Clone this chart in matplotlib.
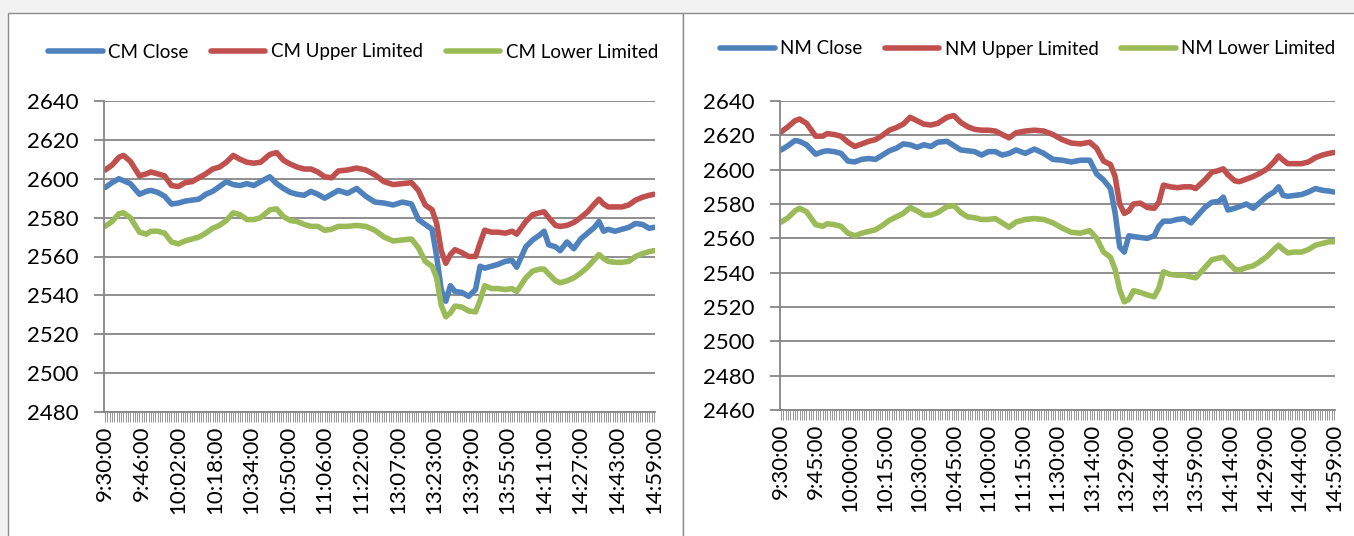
import matplotlib
matplotlib.use("Agg")
import matplotlib.pyplot as plt
from matplotlib.patches import Rectangle
import pandas as pd

plt.rcParams["font.family"] = ["Lato", "DejaVu Sans"]

# ---- categories: trading minutes (morning + afternoon session) ----
morning = pd.date_range("2020-01-01 09:30", "2020-01-01 11:30", freq="min")
afternoon = pd.date_range("2020-01-01 13:00", "2020-01-01 14:59", freq="min")
times = [f"{t.hour}:{t.minute:02d}:00" for t in list(morning) + list(afternoon)]

sample_idx = [0, 3, 6, 8, 11, 15, 18, 20, 23, 26, 29, 32, 35, 38, 41, 44, 47, 50, 53, 56,
              59, 62, 65, 68, 72, 75, 78, 81, 84, 87, 90, 93, 96, 99, 102, 106, 110, 114, 118, 122,
              126, 130, 134, 137, 140, 143, 145, 147, 149, 151, 153, 156, 159, 162, 164, 166, 169, 172, 175, 178,
              180, 184, 187, 190, 192, 194, 197, 199, 202, 205, 208, 211, 214, 216, 218, 220, 223, 226, 229, 232,
              235, 238, 240]

cm_close = [2595.5, 2598, 2600, 2599, 2597.5, 2592, 2593.5, 2594, 2593, 2591, 2587, 2587.5, 2588.5, 2589, 2589.5, 2592, 2593.5, 2596, 2598.5, 2597,
            2596.5, 2597.5, 2596.5, 2598.5, 2601, 2597.5, 2595, 2593, 2592, 2591.5, 2593.5, 2592, 2590, 2592, 2594, 2592.5, 2595, 2591, 2588, 2587.5,
            2586.5, 2588, 2587, 2579, 2576.5, 2574, 2560, 2543, 2537, 2545, 2542, 2541.5, 2539.5, 2543, 2555, 2554, 2555, 2556, 2557.5, 2558,
            2554.5, 2565, 2568.5, 2571, 2573, 2566, 2565, 2563, 2567.5, 2564, 2569, 2572, 2575, 2578, 2573, 2574, 2573, 2574, 2575, 2577,
            2576.5, 2574.5, 2575]
cm_upper = [2604.5, 2607, 2611, 2612, 2609, 2601.5, 2602.5, 2603.5, 2602.5, 2601.5, 2596.5, 2596, 2598, 2598.5, 2600.5, 2602.5, 2605, 2606, 2608.5, 2612,
            2610, 2608.5, 2608, 2608.5, 2612.5, 2613.5, 2609.5, 2607.5, 2606, 2605, 2605, 2603.5, 2601, 2600.5, 2604, 2604.5, 2605.5, 2604.5, 2602, 2598.5,
            2597, 2597.5, 2598, 2594, 2586.5, 2584, 2577, 2563, 2556.5, 2561, 2563.5, 2562, 2560, 2560, 2567, 2573.5, 2572.5, 2572.5, 2572, 2573,
            2571.5, 2578, 2581.5, 2582.5, 2583, 2580, 2576, 2575.5, 2576, 2577.5, 2580, 2583, 2587, 2589.5, 2587, 2585.5, 2585.5, 2585.5, 2586.5, 2589,
            2590.5, 2591.5, 2592]
cm_lower = [2575.5, 2578, 2582, 2582.5, 2580, 2572.5, 2571.5, 2573, 2573, 2572, 2567.5, 2566.5, 2568, 2569, 2570, 2572, 2574.5, 2576, 2578.5, 2582.5,
            2581.5, 2579, 2579, 2580, 2584, 2584.5, 2580.5, 2578.5, 2578, 2576.5, 2575.5, 2575.5, 2573.5, 2574, 2575.5, 2575.5, 2576, 2575.5, 2573.5, 2570,
            2568, 2568.5, 2569, 2564.5, 2557.5, 2555, 2549, 2535, 2529, 2531, 2534.5, 2534, 2532, 2531.5, 2537.5, 2545, 2543.5, 2543.5, 2543, 2543.5,
            2542, 2549, 2552.5, 2553.5, 2553.5, 2551, 2547.5, 2546.5, 2547.5, 2549, 2551.5, 2554.5, 2558.5, 2561, 2559, 2557.5, 2557, 2557, 2557.5, 2560,
            2561.5, 2562.5, 2563]

nm_close = [2611.5, 2614, 2617, 2616.5, 2614.5, 2609, 2610.5, 2611, 2610.5, 2609.5, 2605, 2604.5, 2606, 2606.5, 2606, 2608.5, 2611, 2612.5, 2615, 2614.5,
            2613, 2614.5, 2613.5, 2616, 2616.5, 2614, 2611.5, 2611, 2610.5, 2608.5, 2610.5, 2610.5, 2608.5, 2609.5, 2611.5, 2609.5, 2612, 2609.5, 2606, 2605.5,
            2604.5, 2605.5, 2605.5, 2597.5, 2594, 2589, 2575, 2555, 2552, 2561.5, 2561, 2560.5, 2560, 2561.5, 2567, 2570, 2570, 2571, 2571.5, 2569,
            2572, 2578, 2581, 2581.5, 2584, 2576.5, 2577.5, 2578.5, 2580, 2577.5, 2581, 2584.5, 2587, 2590, 2585, 2584.5, 2585, 2585.5, 2587, 2589,
            2588, 2587.5, 2587]
nm_upper = [2622, 2625, 2628.5, 2629.5, 2627, 2619.5, 2619.5, 2621, 2620.5, 2619.5, 2616, 2613.5, 2615, 2616.5, 2617.5, 2620, 2623, 2624.5, 2626.5, 2630.5,
            2628.5, 2626.5, 2626, 2627, 2630.5, 2631.5, 2627.5, 2625, 2623.5, 2623, 2623, 2622.5, 2620.5, 2618.5, 2621.5, 2622.5, 2623, 2622.5, 2620.5, 2617.5,
            2615.5, 2615, 2616, 2612.5, 2605, 2603, 2596, 2580, 2574.5, 2576, 2580, 2580.5, 2578, 2577.5, 2581, 2591, 2590, 2589.5, 2590, 2590,
            2589, 2594, 2598.5, 2599.5, 2600.5, 2597, 2593.5, 2593, 2594.5, 2596, 2598, 2600.5, 2604.5, 2608, 2605.5, 2603.5, 2603.5, 2603.5, 2604.5, 2607,
            2608.5, 2609.5, 2610]
nm_lower = [2569.5, 2572, 2576, 2577.5, 2575.5, 2568, 2567, 2568.5, 2568, 2567, 2563, 2561.5, 2563, 2564, 2565, 2567.5, 2570.5, 2572.5, 2574.5, 2578,
            2576, 2573.5, 2573.5, 2575, 2578.5, 2579, 2575, 2572.5, 2572, 2571, 2571, 2571.5, 2569, 2566.5, 2569.5, 2571, 2571.5, 2571, 2569, 2566,
            2563.5, 2563, 2564.5, 2560, 2552, 2549, 2542, 2530, 2523, 2524.5, 2529.5, 2528.5, 2527, 2526, 2531, 2540.5, 2539, 2538.5, 2538.5, 2537.5,
            2537, 2543, 2547.5, 2548.5, 2549, 2546, 2542, 2541.5, 2543, 2544, 2546.5, 2549.5, 2553.5, 2556, 2553.5, 2551.5, 2552, 2552, 2553.5, 2556,
            2557, 2558, 2558]

left_names = ["CM Close", "CM Upper Limited", "CM Lower Limited"]
right_names = ["NM Close", "NM Upper Limited", "NM Lower Limited"]
colors = ["#4F81BD", "#C0504D", "#9BBB59"]

W, H = 1354, 536
fig = plt.figure(figsize=(W / 100, H / 100), dpi=100)
fig.patch.set_facecolor("#f2f2f2")

# chart panels (white boxes with grey border)
for x0, x1 in [(8, 683), (683, 1370)]:
    fig.add_artist(Rectangle((x0 / W, -0.02), (x1 - x0) / W, (H - 13) / H + 0.02,
                             transform=fig.transFigure, facecolor="white",
                             edgecolor="#8c8c8c", lw=1.0, zorder=0))

gridc = "#868686"


def setup(ax, ymin, ymax, step):
    ax.set_facecolor("none")
    ax.set_xlim(-0.5, len(times) - 0.5)
    ax.set_ylim(ymin, ymax)
    ax.set_yticks(range(ymin, ymax + 1, 20))
    ax.grid(axis="y", color=gridc, lw=1.3)
    ax.set_axisbelow(True)
    for s in ["top", "right"]:
        ax.spines[s].set_visible(False)
    for s in ["left", "bottom"]:
        ax.spines[s].set_color(gridc)
        ax.spines[s].set_linewidth(1.3)
    ax.set_xticks(range(len(times)))
    ax.set_xticklabels([t if i % step == 0 else "" for i, t in enumerate(times)],
                       rotation=90, fontsize=16)
    ax.tick_params(axis="x", length=7, width=0.6, color=gridc, pad=3)
    ax.tick_params(axis="y", length=7, width=1.3, color=gridc, pad=11, labelsize=16)


axL = fig.add_axes([104 / W, (H - 412) / H, 551 / W, 311 / H])
for name, vals, c in zip(left_names, [cm_close, cm_upper, cm_lower], colors):
    axL.plot(sample_idx, vals, color=c, lw=4.0, label=name,
             solid_joinstyle="round", solid_capstyle="round")
setup(axL, 2480, 2640, 16)

axR = fig.add_axes([780 / W, (H - 410) / H, 555 / W, 309 / H])
for name, vals, c in zip(right_names, [nm_close, nm_upper, nm_lower], colors):
    axR.plot(sample_idx, vals, color=c, lw=4.0, label=name,
             solid_joinstyle="round", solid_capstyle="round")
setup(axR, 2460, 2640, 15)

for ax, cx, cy in [(axL, 353, 52), (axR, 1028, 49)]:
    ax.legend(loc="center", bbox_to_anchor=(cx / W, 1 - cy / H), bbox_transform=fig.transFigure,
              ncol=3, frameon=False, fontsize=13.5, handlelength=2.9, handletextpad=0.3,
              columnspacing=1.2)

fig.savefig("out.png", dpi=100, facecolor=fig.get_facecolor())
